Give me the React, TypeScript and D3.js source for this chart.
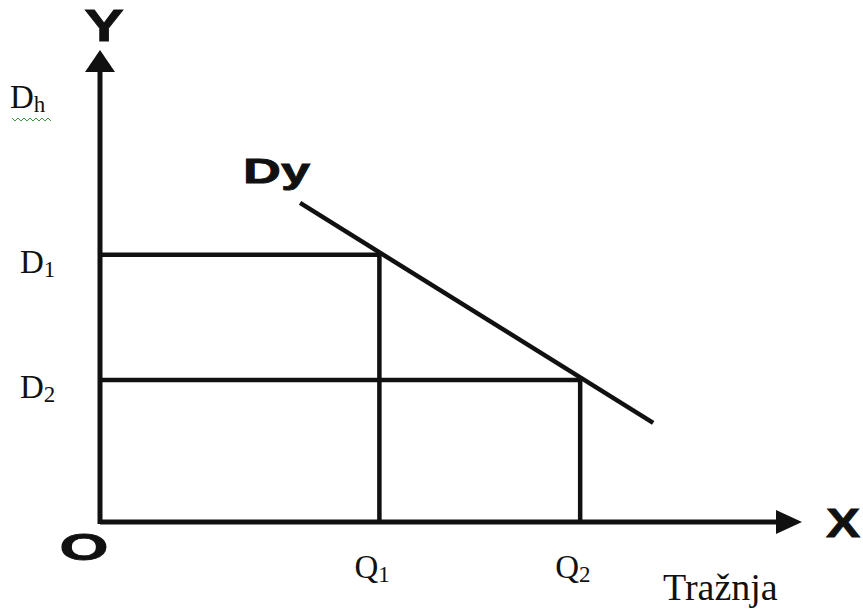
import { useEffect, useRef } from "react"
import * as d3 from "d3"

// demand curve Dy, in chart units (0..100 on each axis)
const curveX = [28.5, 78.8]
const curveY = [67.6, 21.0]

// quantity / price pairs
const quantities = [39.8, 68.4]
const prices = [56.6, 30.1]
const quantityLabels = ["1", "2"]
const priceLabels = ["1", "2"]

const W = 863
const H = 614

const App = () => {
  const ref = useRef<SVGSVGElement>(null)

  useEffect(() => {
    const svg = d3.select(ref.current)
    svg.selectAll("*").remove()

    const x = d3.scaleLinear().domain([0, 100]).range([100, 802])
    const y = d3.scaleLinear().domain([0, 100]).range([522, 50])

    svg.append("rect").attr("width", W).attr("height", H).attr("fill", "#fff")

    const ink = "#111"
    const serif = "'Liberation Serif', 'Times New Roman', serif"
    const sans = "'Liberation Sans', Arial, sans-serif"

    // guide lines
    quantities.forEach((q, i) => {
      svg
        .append("line")
        .attr("x1", x(0))
        .attr("x2", x(q))
        .attr("y1", y(prices[i]))
        .attr("y2", y(prices[i]))
        .attr("stroke", ink)
        .attr("stroke-width", 4.5)
      svg
        .append("line")
        .attr("x1", x(q))
        .attr("x2", x(q))
        .attr("y1", y(prices[i]))
        .attr("y2", y(0))
        .attr("stroke", ink)
        .attr("stroke-width", 4.5)
    })

    // demand line
    const line = d3
      .line<number>()
      .x((d) => x(d))
      .y((_, i) => y(curveY[i]))
    svg
      .append("path")
      .attr("d", line(curveX))
      .attr("fill", "none")
      .attr("stroke", ink)
      .attr("stroke-width", 4.5)

    // axes
    svg
      .append("line")
      .attr("x1", x(0))
      .attr("x2", x(100) - 20)
      .attr("y1", y(0))
      .attr("y2", y(0))
      .attr("stroke", ink)
      .attr("stroke-width", 5)
    svg
      .append("line")
      .attr("x1", x(0))
      .attr("x2", x(0))
      .attr("y1", y(0) + 2)
      .attr("y2", y(100) + 18)
      .attr("stroke", ink)
      .attr("stroke-width", 5)

    // arrow heads
    const tx = x(100)
    const ty = y(0)
    svg
      .append("path")
      .attr("d", `M${tx},${ty} L${tx - 26},${ty - 12} L${tx - 26},${ty + 12} Z`)
      .attr("fill", ink)
    const ax = x(0)
    const ay = y(100)
    svg
      .append("path")
      .attr("d", `M${ax},${ay} L${ax - 15},${ay + 22} L${ax + 15},${ay + 22} Z`)
      .attr("fill", ink)

    // wide bold sans labels
    const wide = (px: number, py: number, sx: number, size: number, s: string, anchor = "middle") =>
      svg
        .append("text")
        .attr("transform", `translate(${px},${py}) scale(${sx},1)`)
        .attr("text-anchor", anchor)
        .attr("font-family", sans)
        .attr("font-weight", "bold")
        .attr("font-size", size)
        .attr("fill", ink)
        .attr("stroke", ink)
        .attr("stroke-width", 0.8)
        .text(s)
    wide(104, 41, 1.35, 44, "Y")
    wide(843, 537, 1.25, 41, "X")
    wide(84, 560, 1.7, 37, "O")
    wide(243, 183, 1.5, 35, "Dy", "start")

    // serif labels
    const sub = (px: number, py: number, main: string, s: string) => {
      const t = svg
        .append("text")
        .attr("x", px)
        .attr("y", py)
        .attr("font-family", serif)
        .attr("font-size", 33)
        .attr("fill", ink)
      t.append("tspan").text(main)
      t.append("tspan").attr("font-size", 23).attr("dy", 4).text(s)
      return t
    }
    priceLabels.forEach((l, i) => sub(20, y(prices[i]) + 18, "D", l))
    quantityLabels.forEach((l, i) => sub(x(quantities[i]) - 25, 578, "Q", l))
    sub(10, 108, "D", "h")

    // spell-check squiggle under Dh
    const squiggle = d3.range(0, 14).map((i) => [12 + i * 3, 119 + (i % 2 ? 2 : -1)] as [number, number])
    svg
      .append("path")
      .attr("d", d3.line()(squiggle))
      .attr("fill", "none")
      .attr("stroke", "#3a9a3a")
      .attr("stroke-width", 1)

    svg
      .append("text")
      .attr("x", 663)
      .attr("y", 600)
      .attr("font-family", serif)
      .attr("font-size", 38)
      .attr("fill", ink)
      .text("Tražnja")
  }, [])

  return (
    <svg
      ref={ref}
      width={W}
      height={H}
      style={{ position: "absolute", left: 0, top: 0, display: "block" }}
    />
  )
}

export default App
